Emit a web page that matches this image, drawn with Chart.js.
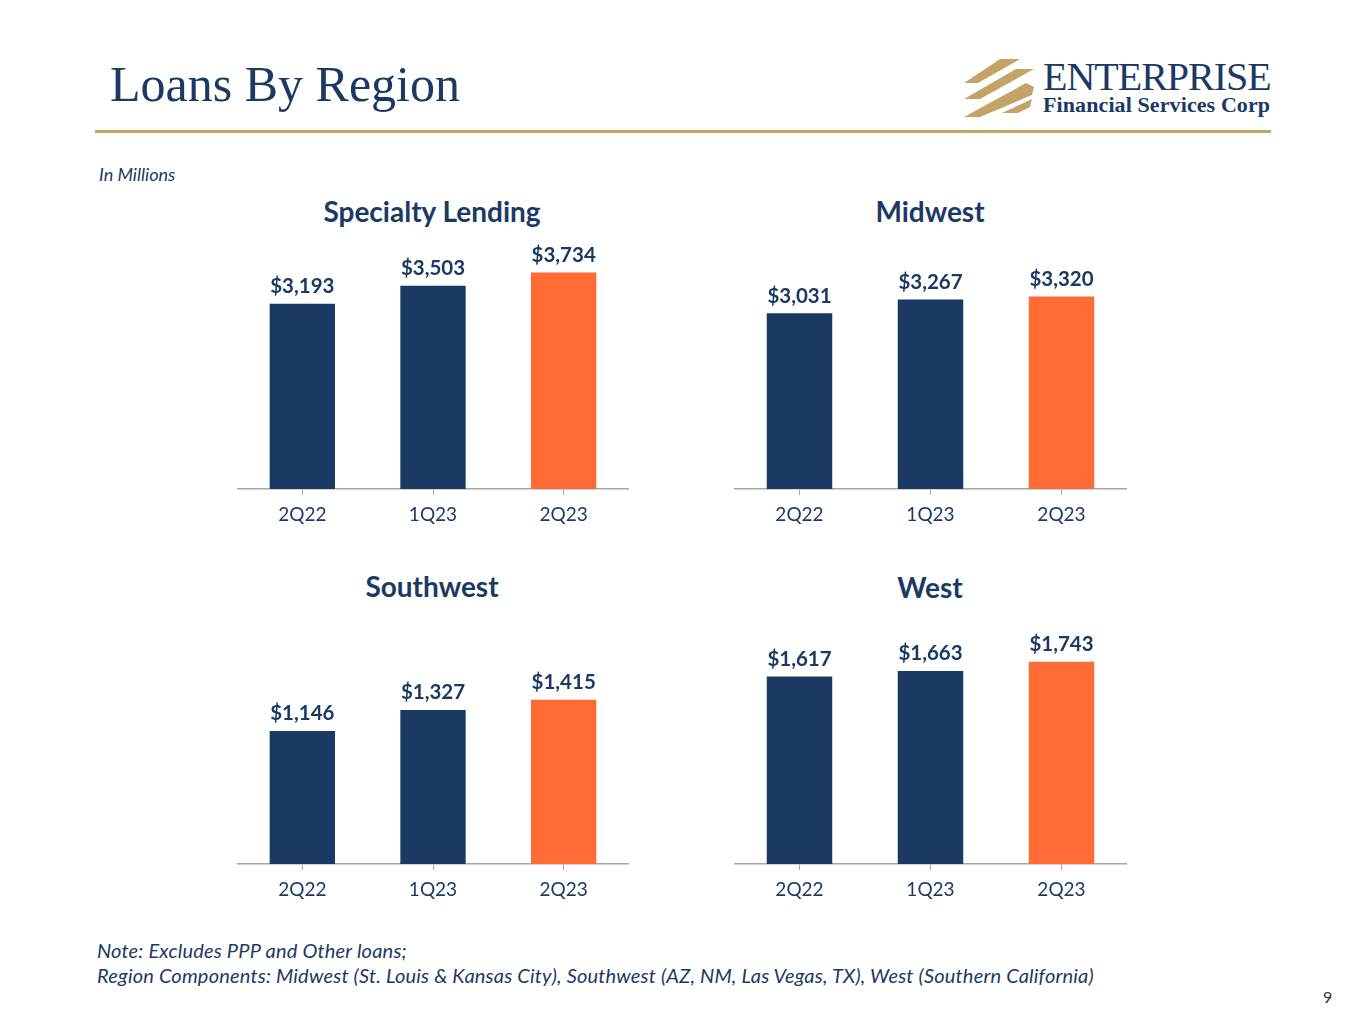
<!DOCTYPE html>
<html>
<head>
<meta charset="utf-8">
<script src="https://cdn.jsdelivr.net/npm/chart.js@4.4.0/dist/chart.umd.min.js"></script>
<style>
  body { margin: 0; background: #fff; }
  #page { position: relative; width: 1365px; height: 1024px; overflow: hidden; font-family: Lato, "Open Sans", sans-serif; }
  .abs { position: absolute; }
  #title { left: 110px; top: 55px; font-family: "Liberation Serif", serif; font-size: 50px; color: #1b3a63; white-space: nowrap; }
  #rule { left: 95px; top: 130px; width: 1176px; height: 3px; background: #c4a366; }
  #units { left: 99px; top: 163px; font-size: 18px; font-style: italic; color: #1b3a63; }
  .ctitle { width: 400px; text-align: center; font-weight: bold; font-size: 28px; color: #1b3a63; }
  .box { position: absolute; }
  #note { left: 97px; top: 938px; font-size: 20px; font-style: italic; color: #1b3a63; line-height: 25px; white-space: nowrap; letter-spacing: 0.2px; }
  #pageno { left: 1323px; top: 987px; font-size: 16px; color: #333; }
  #logo1 { left: 1043px; top: 53px; font-family: "Liberation Serif", serif; font-size: 40px; color: #1b3a63; letter-spacing: -1px; }
  #logo2 { left: 1043px; top: 92px; font-family: "Liberation Serif", serif; font-size: 22px; font-weight: bold; color: #1b3a63; letter-spacing: 0.1px; }
</style>
</head>
<body>
<div id="page">
  <div id="title" class="abs">Loans By Region</div>
  <svg class="abs" style="left:960px;top:55px" width="80" height="70">
    <polygon points="4,28 40,4 60,4 18,28" fill="#c4a366"/>
    <polygon points="4,44 56,14 74,14 20,44" fill="#c4a366"/>
    <polygon points="4,62 66,28 74,32 72,40 20,62" fill="#c4a366"/>
    <polygon points="42,58 72,44 70,52 58,58" fill="#c4a366"/>
  </svg>
  <div id="logo1" class="abs">ENTERPRISE</div>
  <div id="logo2" class="abs">Financial Services Corp</div>
  <div id="rule" class="abs"></div>
  <div id="units" class="abs">In Millions</div>

  <div class="abs ctitle" style="left:232px;top:194px">Specialty Lending</div>
  <div class="abs ctitle" style="left:730px;top:194px">Midwest</div>
  <div class="abs ctitle" style="left:232px;top:569px">Southwest</div>
  <div class="abs ctitle" style="left:730px;top:570px">West</div>

  <div class="box" style="left:237px;top:220px;width:392px;height:320px"><canvas id="c1"></canvas></div>
  <div class="box" style="left:734px;top:220px;width:393px;height:320px"><canvas id="c2"></canvas></div>
  <div class="box" style="left:237px;top:595px;width:392px;height:320px"><canvas id="c3"></canvas></div>
  <div class="box" style="left:734px;top:595px;width:393px;height:320px"><canvas id="c4"></canvas></div>

  <div id="note" class="abs">Note: Excludes PPP and Other loans;<br>Region Components: Midwest (St. Louis &amp; Kansas City), Southwest (AZ, NM, Las Vegas, TX), West (Southern California)</div>
  <div id="pageno" class="abs">9</div>
</div>

<script>
// values in $ millions
const quarters = ['2Q22', '1Q23', '2Q23'];
const specialtyLending = [3193, 3503, 3734];
const midwest = [3031, 3267, 3320];
const southwest = [1146, 1327, 1415];
const west = [1617, 1663, 1743];

const navy = '#1b3a63';
const orange = '#ff6b35';
const barColors = [navy, navy, orange];

// draws "$3,193" above each bar
const valueLabels = {
    id: 'valueLabels',
    afterDatasetsDraw(chart) {
        const ctx = chart.ctx;
        const meta = chart.getDatasetMeta(0);
        const values = chart.data.datasets[0].data;
        ctx.save();
        ctx.font = 'bold 20.5px Lato, sans-serif';
        ctx.fillStyle = navy;
        ctx.textAlign = 'center';
        ctx.textBaseline = 'bottom';
        meta.data.forEach((bar, i) => {
            ctx.fillText('$' + values[i].toLocaleString('en-US'), bar.x, bar.y - 7);
        });
        ctx.restore();
    }
};

function makeChart(id, values, yMax) {
    return new Chart(document.getElementById(id), {
        type: 'bar',
        data: {
            labels: quarters,
            datasets: [{
                data: values,
                backgroundColor: barColors,
                categoryPercentage: 0.5,
                barPercentage: 1
            }]
        },
        options: {
            responsive: true,
            maintainAspectRatio: false,
            animation: false,
            layout: { padding: { top: 37, left: 0, right: 0, bottom: 0 } },
            plugins: { legend: { display: false }, tooltip: { enabled: false } },
            scales: {
                x: {
                    grid: {
                        offset: false,
                        drawOnChartArea: false,
                        drawTicks: true,
                        tickLength: 6,
                        color: '#a6a6a6'
                    },
                    border: { display: true, color: '#a6a6a6', width: 1.5 },
                    ticks: {
                        color: navy,
                        font: { family: 'Lato, sans-serif', size: 19 },
                        padding: 8
                    },
                    afterFit: function (scale) { scale.height = 51; }
                },
                y: { display: false, min: 0, max: yMax }
            }
        },
        plugins: [valueLabels]
    });
}

makeChart('c1', specialtyLending, 4000);
makeChart('c2', midwest, 4000);
makeChart('c3', southwest, 2000);
makeChart('c4', west, 2000);
</script>
</body>
</html>
